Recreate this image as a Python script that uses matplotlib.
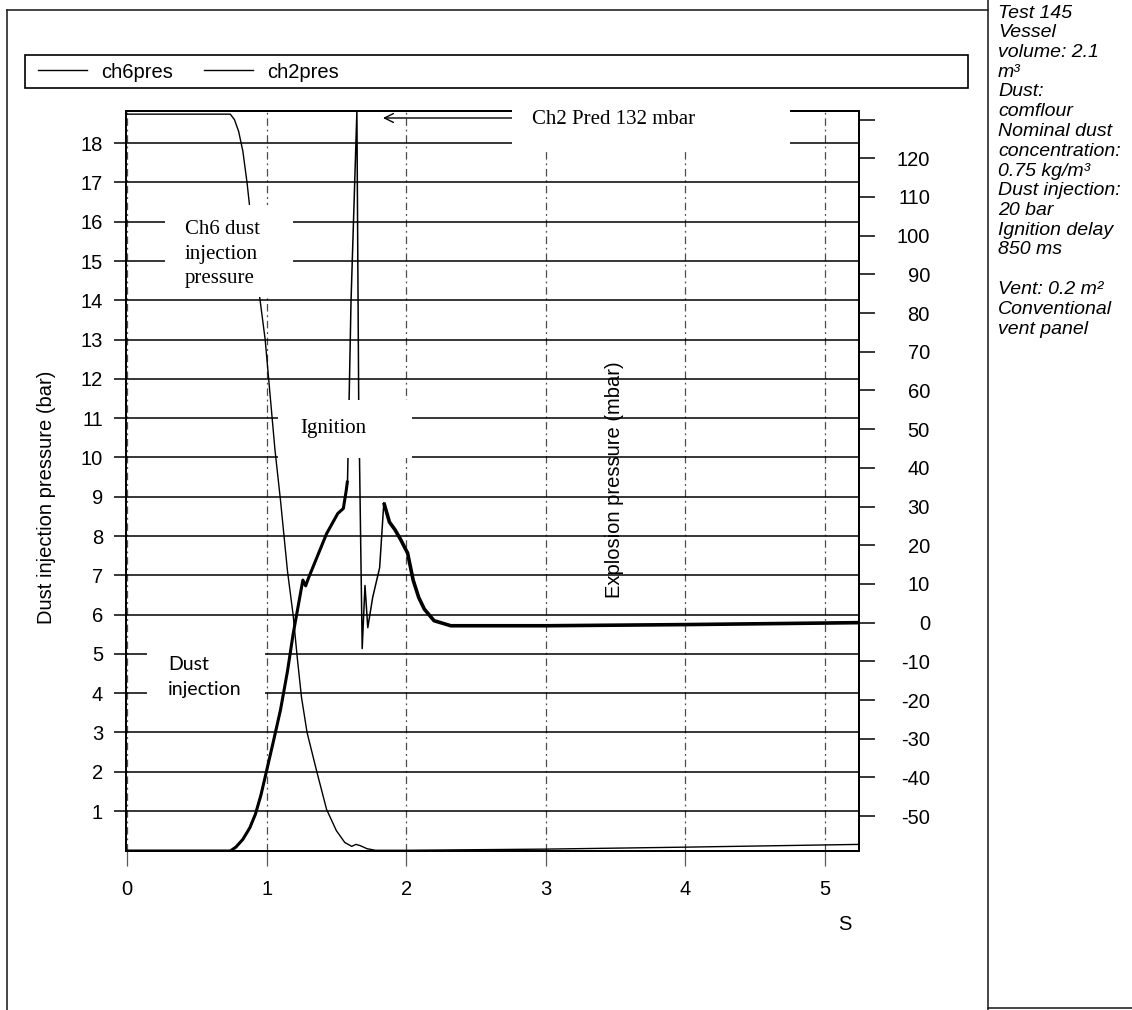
import matplotlib
matplotlib.use("Agg")
import matplotlib.pyplot as plt
from matplotlib.lines import Line2D
from matplotlib.patches import Rectangle

# ---------------- data ----------------
ch6_t = [0.00, 0.74, 0.77, 0.80, 0.83, 0.86, 0.90, 0.95, 0.99, 1.02, 1.06, 1.10,
         1.15, 1.19, 1.22, 1.25, 1.29, 1.36, 1.43, 1.50, 1.56, 1.61, 1.64, 1.67,
         1.72, 1.78, 2.00, 3.00, 4.00, 5.244]
ch6_bar = [18.74, 18.74, 18.6, 18.3, 17.8, 17.0, 15.7, 14.1, 13.0, 11.8, 10.2, 8.9,
           7.1, 6.0, 4.9, 3.9, 3.0, 2.0, 1.04, 0.5, 0.2, 0.1, 0.15, 0.12,
           0.04, 0.0, 0.0, 0.03, 0.08, 0.15]

ch2_t = [0.00, 0.74, 0.78, 0.83, 0.88, 0.92, 0.96, 1.00, 1.05, 1.10, 1.15, 1.19,
         1.23, 1.26, 1.28, 1.30, 1.36, 1.43, 1.51, 1.55, 1.57, 1.58, 1.605, 1.647,
         1.660, 1.685, 1.705, 1.725, 1.76, 1.81, 1.84, 1.88, 1.92, 1.96, 2.01, 2.05,
         2.09, 2.13, 2.20, 2.32, 3.00, 4.00, 5.244]
ch2_mbar = [-59.0, -59.0, -58.0, -56.0, -53.0, -49.5, -44.5, -38.3, -30.5, -22.5, -12.5, -3.0,
            5.0, 11.0, 9.5, 11.5, 16.8, 23.0, 28.2, 29.5, 34.0, 36.7, 83.0, 132.0,
            57.0, -6.7, 9.6, -1.3, 6.5, 14.2, 31.0, 26.0, 24.0, 21.5, 18.0, 11.0,
            6.5, 3.5, 0.5, -0.8, -0.8, -0.5, 0.0]

x_ticks = [0, 1, 2, 3, 4, 5]
left_ticks = list(range(1, 19))
right_ticks = list(range(-50, 131, 10))
right_tick_labels = [str(v) if v <= 120 else "" for v in right_ticks]
legend_labels = ["ch6pres", "ch2pres"]
info_lines = ["Test 145", "Vessel", "volume: 2.1", "m\u00b3", "Dust:", "comflour",
              "Nominal dust", "concentration:", "0.75 kg/m\u00b3", "Dust injection:",
              "20 bar", "Ignition delay", "850 ms", "", "Vent: 0.2 m\u00b2",
              "Conventional", "vent panel"]

# ---------------- figure ----------------
W, H = 1132, 1010
plt.rcParams["font.family"] = ["Liberation Sans", "DejaVu Sans"]
fig = plt.figure(figsize=(W / 100, H / 100), dpi=100)
fig.patch.set_facecolor("white")


def fx(px):
    return px / W


def fy(py):
    return 1 - py / H


PX = 0.72  # points per pixel
FS = 14.5
SERIF = ["Liberation Serif", "DejaVu Serif"]

ax = fig.add_axes([fx(126), fy(851), fx(859) - fx(126), fy(111) - fy(851)])
ax.set_xlim(-0.007, 5.244)
ax.set_ylim(-0.018, 18.82)
ax2 = ax.twinx()
ax2.set_ylim(-59.0, 132.2)

l6, = ax.plot(ch6_t, ch6_bar, color="black", lw=1.0, zorder=3)
# ch2: thin trace for the whole record, heavier where the recorded trace is noisy
l2, = ax2.plot(ch2_t, ch2_mbar, color="black", lw=1.1, zorder=3)
ax2.plot(ch2_t[:22], ch2_mbar[:22], color="black", lw=2.2, zorder=3,
         solid_capstyle="butt")
ax2.plot(ch2_t[30:], ch2_mbar[30:], color="black", lw=2.6, zorder=3,
         solid_capstyle="butt")

# grid
ax.set_yticks(left_ticks)
ax.set_yticklabels([str(v) for v in left_ticks])
ax.set_xticks(x_ticks)
ax.set_xticklabels([str(v) for v in x_ticks])
ax.yaxis.grid(True, color="black", lw=1.1, ls="-")
ax.xaxis.grid(True, color="0.3", lw=0.9, ls=(0, (6, 3, 1.5, 3)))
ax.set_axisbelow(True)

for a in (ax, ax2):
    for s in a.spines.values():
        s.set_linewidth(1.3)
        s.set_color("black")

ax.tick_params(axis="y", direction="out", length=12 * PX, width=1.1, pad=11 * PX,
               labelsize=FS, colors="black")
ax.tick_params(axis="x", direction="out", length=15 * PX, width=0.9, pad=14 * PX,
               labelsize=FS, color="0.35", labelcolor="black")
ax2.set_yticks(right_ticks)
ax2.set_yticklabels(right_tick_labels)
ax2.tick_params(axis="y", direction="out", length=16 * PX, width=1.1, pad=55 * PX,
                labelsize=FS)
for lab in ax2.get_yticklabels():
    lab.set_ha("right")

# axis labels
ax.set_ylabel("Dust injection pressure (bar)", fontsize=FS)
ax.yaxis.set_label_coords((47 - 126) / 733, (851 - 497) / 740)
ax.yaxis.label.set_va("center")
ax2.set_ylabel("Explosion pressure (mbar)", fontsize=FS, rotation=90)
ax2.yaxis.set_label_coords((614 - 126) / 733, (851 - 480) / 740)
ax2.yaxis.label.set_va("center")
ax.set_xlabel("S", fontsize=FS)
ax.xaxis.set_label_coords((845 - 126) / 733, (851 - 925) / 740)
ax.xaxis.label.set_va("center")


# ---------------- annotations with white boxes ----------------
def white_box(x0, y0, x1, y1):
    fig.add_artist(Rectangle((fx(x0), fy(y1)), fx(x1) - fx(x0), fy(y0) - fy(y1),
                             transform=fig.transFigure, facecolor="white",
                             edgecolor="none", zorder=3))


def text_lines(x, ys, lines, family, size):
    for yy, t in zip(ys, lines):
        fig.text(fx(x), fy(yy), t, ha="left", va="center", family=family,
                 fontsize=size, zorder=4)


white_box(165, 205, 293, 297)
text_lines(185, [229, 254, 278], ["Ch6 dust", "injection", "pressure"], SERIF, 15)

white_box(278, 400, 412, 458)
text_lines(300, [429], ["Ignition"], SERIF, 15)

white_box(147, 641, 265, 705)
text_lines(168, [665, 689], ["Dust", "injection"], ["Lato", "DejaVu Sans"], 14)

white_box(512, 100, 790, 150)
text_lines(532, [120], ["Ch2 Pred 132 mbar"], SERIF, 15)
ax2.annotate("", xy=(fx(383), fy(118)), xytext=(fx(512), fy(118)),
             xycoords="figure fraction", textcoords="figure fraction",
             annotation_clip=False,
             arrowprops=dict(arrowstyle="->", lw=1.0, color="black",
                             shrinkA=0, shrinkB=0, mutation_scale=16))

# ---------------- legend ----------------
fig.add_artist(Rectangle((fx(25), fy(88)), fx(968) - fx(25), fy(55) - fy(88),
                         transform=fig.transFigure, facecolor="white",
                         edgecolor="black", lw=1.2, zorder=1))
h6 = Line2D([], [], color="black", lw=1.0)
h2 = Line2D([], [], color="black", lw=1.0)
leg = fig.legend([h6, h2], legend_labels, loc="center left",
                 bbox_to_anchor=(fx(38), fy(72)), ncol=2, frameon=False,
                 fontsize=FS, handlelength=2.45, handletextpad=0.7,
                 columnspacing=1.5, borderpad=0, borderaxespad=0)
leg.set_zorder(2)

# ---------------- outer frame and side panel ----------------
for xs, ys in [((7, 7), (10, 1010)), ((7, 988), (10, 10)), ((988, 988), (0, 1010)),
               ((988, 1132), (1008, 1008))]:
    fig.add_artist(Line2D([fx(xs[0]), fx(xs[1])], [fy(ys[0]), fy(ys[1])],
                          transform=fig.transFigure, color="0.15", lw=1.2))

for i, t in enumerate(info_lines):
    if t:
        fig.text(fx(998), fy(13 + i * 19.75), t, ha="left", va="center",
                 fontsize=14, style="italic")

fig.savefig("out.png", dpi=100, facecolor="white")
